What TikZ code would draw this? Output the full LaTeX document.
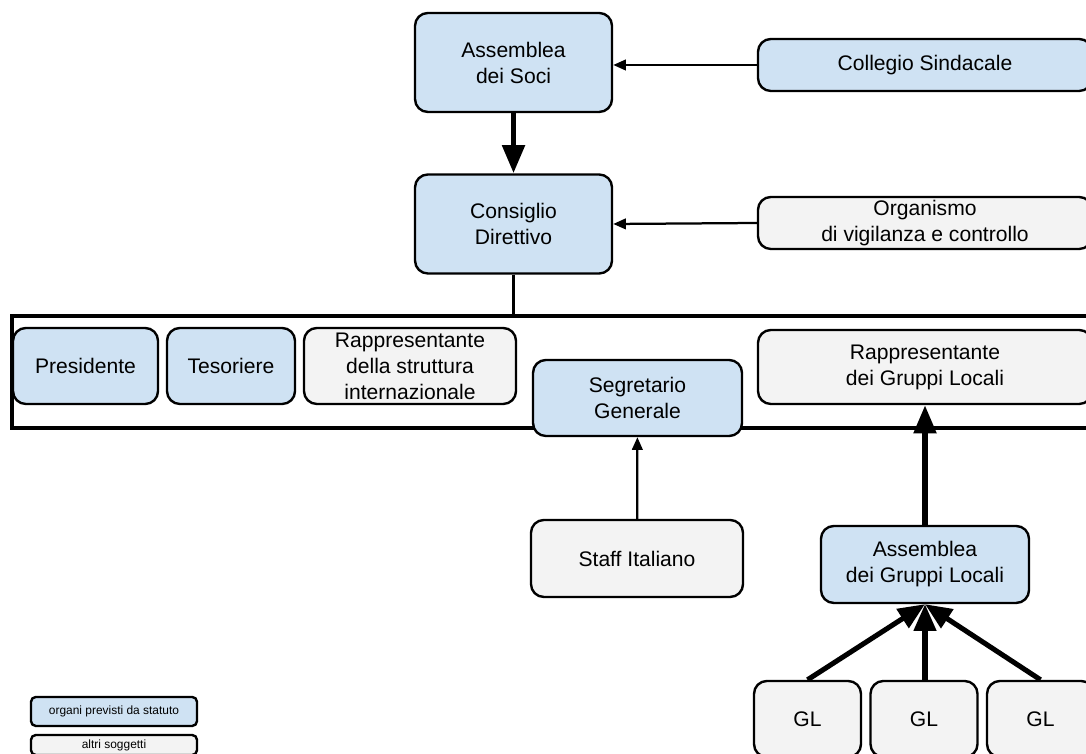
\documentclass[tikz,border=0pt]{standalone}
\usepackage{fontspec}
\setmainfont{Liberation Sans}
\usetikzlibrary{arrows.meta}
\definecolor{organblue}{HTML}{CFE2F3}
\definecolor{othergray}{HTML}{F3F3F3}
\tikzset{
  box/.style={draw=black, line width=1.7pt, rounded corners=0.32cm, align=center, inner sep=0pt, font=\fontsize{15}{18.5}\selectfont},
  organ/.style={box, fill=organblue},
  other/.style={box, fill=othergray},
  frame/.style={draw=black, line width=2.2pt, inner sep=0pt, minimum width=27cm, minimum height=2.8cm},
  thinarrow/.style={line width=1.6pt, -{Triangle[length=9pt,width=7.5pt]}},
  thickarrow/.style={line width=4pt, -{Triangle[length=20pt,width=15.5pt]}},
  glarrow/.style={line width=3.6pt, -{Triangle[length=19pt,width=15.5pt]}},
  legendbox/.style={box, rounded corners=0.12cm, font=\fontsize{8.5}{10}\selectfont},
}

\begin{document}
\begin{tikzpicture}
\clip (0,0) rectangle (27.15,18.85);
\node[frame] (board) at (13.8,9.55) {};
\node[organ, minimum width=4.925cm, minimum height=2.475cm] (ads) at (12.838,17.288) {Assemblea\\dei Soci};
\node[organ, minimum width=8.35cm, minimum height=1.3cm] (cs) at (23.125,17.225) {Collegio Sindacale};
\node[organ, minimum width=4.925cm, minimum height=2.475cm] (cd) at (12.838,13.25) {Consiglio\\Direttivo};
\node[other, minimum width=8.35cm, minimum height=1.3cm] (odv) at (23.125,13.275) {Organismo\\di vigilanza e controllo};
\node[organ, minimum width=3.625cm, minimum height=1.9cm] (pres) at (2.138,9.7) {Presidente};
\node[organ, minimum width=3.2cm, minimum height=1.9cm] (tes) at (5.775,9.7) {Tesoriere};
\node[other, minimum width=5.3cm, minimum height=1.9cm] (rsi) at (10.25,9.7) {Rappresentante\\della struttura\\internazionale};
\node[organ, minimum width=5.225cm, minimum height=1.9cm] (sg) at (15.938,8.9) {Segretario\\Generale};
\node[other, minimum width=8.35cm, minimum height=1.85cm] (rgl) at (23.125,9.675) {Rappresentante\\dei Gruppi Locali};
\node[other, minimum width=5.3cm, minimum height=1.925cm] (staff) at (15.925,4.888) {Staff Italiano};
\node[organ, minimum width=5.2cm, minimum height=1.925cm] (agl) at (23.125,4.738) {Assemblea\\dei Gruppi Locali};
\node[other, minimum width=2.675cm, minimum height=1.9cm] (gla) at (20.188,0.875) {GL};
\node[other, minimum width=2.675cm, minimum height=1.9cm] (glb) at (23.1,0.875) {GL};
\node[other, minimum width=2.675cm, minimum height=1.9cm] (glc) at (26.013,0.875) {GL};
\node[legendbox, fill=organblue, minimum width=4.15cm, minimum height=0.725cm] (lorg) at (2.85,1.063) {organi previsti da statuto};
\node[legendbox, fill=othergray, minimum width=4.15cm, minimum height=0.5cm] (loth) at (2.85,0.225) {altri soggetti};
% connectors
\draw[thinarrow] (cs.west) -- (cs.west -| ads.east);
\draw[thickarrow] (ads) -- (cd);
\draw[thinarrow] (odv.west) -- (cd.east);
\draw[line width=1.6pt] (cd.south) -- (cd.south |- board.north);
\draw[thinarrow] (staff) -- (sg);
\draw[thickarrow] (agl) -- (rgl);
\draw[glarrow] (gla.north) -- (agl.south);
\draw[glarrow] (glb.north -| agl.south) -- (agl.south);
\draw[glarrow] (glc.north) -- (agl.south);
\end{tikzpicture}
\end{document}
